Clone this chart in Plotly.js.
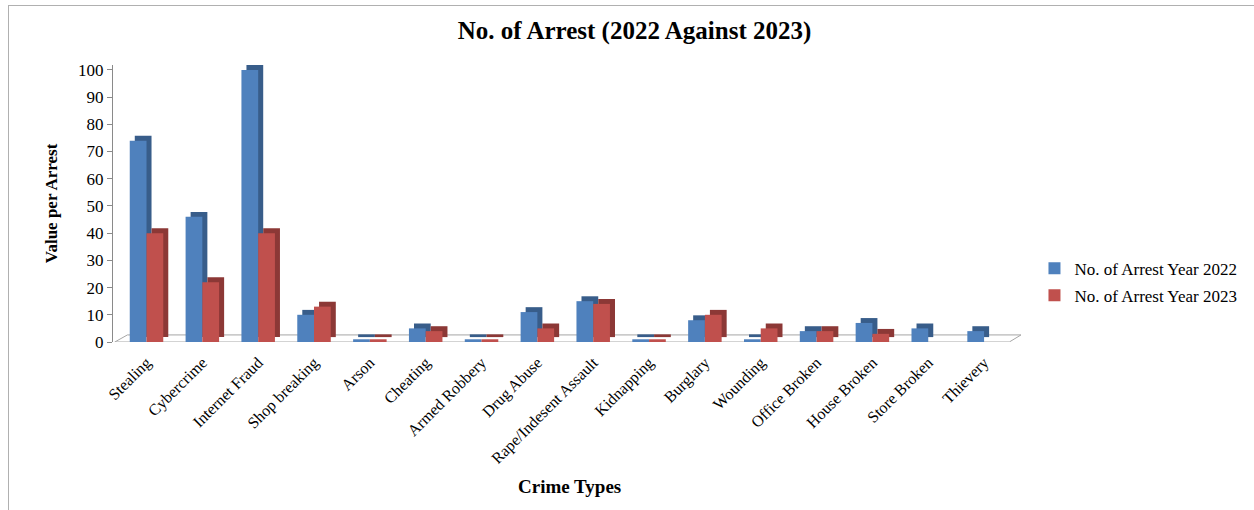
<!DOCTYPE html>
<html>
<head>
<meta charset="utf-8">
<script src="https://cdn.plot.ly/plotly-3.0.1.min.js"></script>
<style>
  html, body { margin: 0; padding: 0; background: #fff; }
  #chart { width: 1254px; height: 510px; position: absolute; left: 0; top: 0; }
  #frame { position: absolute; left: 8px; top: 5px; width: 1250px; height: 510px;
           border-left: 1px solid #b0b0b0; border-top: 1px solid #b0b0b0; pointer-events: none; }
</style>
</head>
<body>
<div id="chart"></div>
<div id="frame"></div>
<script>
const categories = ["Stealing", "Cybercrime", "Internet Fraud", "Shop breaking", "Arson", "Cheating",
  "Armed Robbery", "Drug Abuse", "Rape/Indesent Assault", "Kidnapping", "Burglary", "Wounding",
  "Office Broken", "House Broken", "Store Broken", "Thievery"];
const arrests2022 = [74, 46, 100, 10, 1, 5, 1, 11, 15, 1, 8, 1, 4, 7, 5, 4];
const arrests2023 = [40, 22, 40, 13, 1, 4, 1, 5, 14, 1, 10, 5, 4, 3, 0, 0];
const seriesNames = ["No. of Arrest Year 2022", "No. of Arrest Year 2023"];
const yTicks = [0, 10, 20, 30, 40, 50, 60, 70, 80, 90, 100];

const W = 0.3, DX = 0.09, DY = 1.8;
const serif = "Liberation Serif, Times New Roman, serif";

function depth(vals, off, color) {
  return { type: "bar", x: categories, y: vals, base: DY, width: W, offset: off + DX,
           marker: { color: color, line: { width: 0 } }, showlegend: false, hoverinfo: "skip" };
}
function front(vals, off, color, name, grp) {
  return { type: "bar", x: categories, y: vals, width: W, offset: off, name: name,
           legendgroup: grp, marker: { color: color, line: { width: 0 } } };
}

const data = [
  depth(arrests2022, -W, "#385D8A"),
  front(arrests2022, -W, "#4F81BD", seriesNames[0], "a"),
  depth(arrests2023, 0, "#8C3836"),
  front(arrests2023, 0, "#C0504D", seriesNames[1], "b")
];

const layout = {
  width: 1254, height: 510,
  margin: { l: 113, r: 237, t: 65, b: 168 },
  paper_bgcolor: "#ffffff", plot_bgcolor: "rgba(0,0,0,0)",
  barmode: "overlay",
  font: { family: serif, color: "#000" },
  title: { text: "<b>No. of Arrest (2022 Against 2023)</b>", font: { family: serif, size: 25, color: "#000" },
           xref: "container", x: 0.506, xanchor: "center", yref: "container", y: 0.94, yanchor: "middle" },
  xaxis: { type: "category", range: [-0.6, 15.5], tickangle: -45, showgrid: false, showline: false,
           zeroline: false, ticks: "outside", ticklen: 4, tickcolor: "rgba(0,0,0,0)",
           tickfont: { family: serif, size: 16, color: "#000" }, automargin: false },
  yaxis: { range: [0, 101.8], tickvals: yTicks, showgrid: false, zeroline: false, showline: true,
           linecolor: "#8a8a8a", linewidth: 1, ticks: "outside", ticklen: 5, tickcolor: "#8a8a8a",
           tickfont: { family: serif, size: 17, color: "#000" }, automargin: false,
           title: { text: "<b>Value per Arrest</b>", font: { family: serif, size: 17, color: "#000" }, standoff: 16 } },
  legend: { x: 1.025, xanchor: "left", y: 0.33, yanchor: "top", font: { family: serif, size: 17, color: "#000" },
            tracegroupgap: 2, bgcolor: "rgba(0,0,0,0)" },
  shapes: [
    { type: "path", xref: "paper", yref: "y", layer: "below",
      path: "M 0.002 0 L 0.997 0 L 1.01 2.6 L 0.016 2.6 Z",
      fillcolor: "#ffffff", line: { color: "#a6a6a6", width: 1 } },
    { type: "line", xref: "paper", yref: "y", layer: "below", x0: 0.002, x1: 0.997, y0: -0.5, y1: -0.5,
      line: { color: "#d0d0d0", width: 2 } }
  ],
  annotations: [
    { text: "<b>Crime Types</b>", xref: "paper", yref: "paper", x: 0.508, y: -0.52, xanchor: "center",
      yanchor: "middle", showarrow: false, font: { family: serif, size: 19, color: "#000" } }
  ]
};

Plotly.newPlot("chart", data, layout, { displayModeBar: false, responsive: false });
</script>
</body>
</html>
